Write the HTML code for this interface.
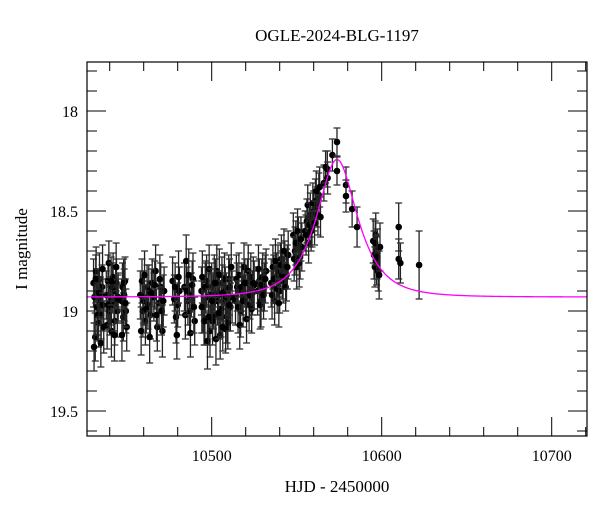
<!DOCTYPE html>
<html><head><meta charset="utf-8">
<style>
html,body{margin:0;padding:0;background:#fff;}
svg{display:block;font-family:"Liberation Serif",serif;}
</style></head>
<body>
<svg id="chart" width="600" height="512" viewBox="0 0 600 512"></svg>
<script>
// ---- data ----
const hjd = [
10430.5,10431,10431.5,10432,10432.5,10433,10433.5,10434,10434.5,10435,10435.5,10436,
10438,10438.5,10439,10439.5,10440,10440.5,10441,10441.5,
10442,10442.5,10443,10443.5,10444,10444.5,10445,
10447,10447.5,10448,10448.5,10449,10449.5,10450,
10458,10459,10459.5,10460,10461,10462,10462.5,10463,10464,10465,
10466,10467,10468,10469,10470,10471,10472,
10477,10478,10479,10480,10481,
10484,10485,10486,10487,10488,10489,10490,
10494,10495,10496,10497,10498,10499,10500,10501,10502,10503,10504,10505,10506,10507,10508,10509,10510,10511,10512,
10514,10515,10516,10517,10518,10519,10520,10521,10522,10523,10524,10525,
10527,10528,10529,10530,10531,10532,
10535,10536,10537,10538,10539,10540,10541,10542,10543,10544,10545,
10548,10549,10550,10551,10552,10553,
10555,10556,10557,10558,10559,10560,10561,10562,10563,10564,
10566,10567,10568,10568.2,
10571,10573.7,10573.7,10579,10579,10582.6,10585.5,
10595,10595.5,10596,10596.5,10597,10597.5,10598,10599,
10610,10610,10611,10622
];
const mag = [
18.86,18.93,19.13,18.80,18.98,18.90,19.06,18.84,18.95,19.02,18.88,18.97,
18.92,19.07,18.85,18.76,19.00,18.95,19.10,18.88,
18.83,18.97,19.05,18.90,18.86,19.00,18.93,
18.95,18.88,19.03,18.92,18.85,19.00,19.08,
18.92,18.85,19.00,18.95,19.05,18.88,18.97,18.90,19.02,18.86,
18.93,18.80,19.08,18.96,18.88,19.10,18.90,
18.85,18.94,19.03,18.97,18.90,
18.88,18.75,18.95,19.00,18.92,18.84,19.05,
18.90,18.97,19.05,18.85,18.93,19.10,18.88,18.95,19.02,18.80,18.92,19.12,18.86,18.96,18.90,19.03,18.84,18.98,18.93,
18.95,18.88,18.82,19.00,18.90,18.78,18.93,18.86,18.97,18.83,18.91,18.87,
18.90,18.85,18.95,18.83,18.88,18.80,
18.86,18.78,18.95,18.83,18.80,18.90,18.74,18.85,18.77,18.82,18.72,
18.62,18.70,18.78,18.65,18.73,18.68,
18.60,18.55,18.66,18.52,18.58,18.50,18.45,18.48,18.42,18.53,
18.36,18.28,18.29,18.335,
18.22,18.155,18.30,18.37,18.425,18.49,18.58,
18.65,18.72,18.78,18.62,18.75,18.70,18.80,18.68,
18.58,18.74,18.76,18.77
];
const err = [
0.12,0.13,0.12,0.12,0.14,0.11,0.12,0.13,0.12,0.12,0.11,0.13,
0.12,0.12,0.13,0.11,0.12,0.12,0.13,0.12,
0.12,0.13,0.12,0.11,0.12,0.13,0.12,
0.11,0.12,0.12,0.13,0.12,0.11,0.12,
0.12,0.11,0.13,0.12,0.12,0.11,0.12,0.13,0.12,0.12,
0.12,0.13,0.12,0.11,0.12,0.13,0.12,
0.12,0.12,0.13,0.11,0.12,
0.12,0.13,0.12,0.12,0.11,0.13,0.12,
0.12,0.14,0.12,0.13,0.12,0.13,0.12,0.14,0.12,0.13,0.12,0.12,0.13,0.14,0.12,0.13,0.12,0.12,0.13,
0.12,0.12,0.11,0.13,0.12,0.12,0.11,0.12,0.13,0.12,0.11,0.12,
0.12,0.11,0.13,0.12,0.12,0.11,
0.12,0.11,0.12,0.12,0.13,0.11,0.12,0.11,0.12,0.13,0.12,
0.11,0.12,0.11,0.12,0.11,0.12,
0.10,0.11,0.10,0.11,0.10,0.10,0.11,0.10,0.11,0.10,
0.09,0.08,0.09,0.08,
0.08,0.07,0.07,0.09,0.08,0.09,0.10,
0.11,0.12,0.10,0.11,0.12,0.11,0.10,0.12,
0.12,0.10,0.10,0.17
];
// additional baseline-season observations
const hjd2 = [
10430.8,10431.8,10432.8,10433.8,10434.8,10435.8,10436.5,10439.2,10440.8,10442.8,10443.8,10444.8,10447.2,10448.2,10449.2,
10458.5,10459.8,10460.5,10461.5,10463.5,10464.5,10466.5,10467.5,10469.5,10470.5,10471.5,10478.5,10479.5,10480.5,
10484.5,10485.5,10486.5,10487.5,10488.5,10489.5,
10494.5,10495.5,10496.5,10497.5,10498.5,10499.5,10500.5,10501.5,10502.5,10503.5,10504.5,10505.5,10506.5,10507.5,10508.5,10509.5,10510.5,10511.5,
10494.2,10496.2,10498.2,10500.2,10502.2,10504.2,10506.2,10508.2,10510.2,
10514.5,10515.5,10516.5,10517.5,10518.5,10519.5,10520.5,10521.5,10522.5,10523.5,10524.5,
10527.5,10528.5,10529.5,10530.5,10531.5,
10535.5,10536.5,10537.5,10538.5,10539.5,10540.5,10541.5,10542.5,10543.5,10544.5,
10548.5,10549.5,10550.5,10551.5,10552.5,
10555.5,10556.5,10557.5,10558.5,10559.5,10560.5,10561.5,10562.5,10563.5,
10596.2,10597.2,10598.5
];
const mag2 = [
19.18,18.84,19.02,18.91,19.16,18.79,19.08,18.97,18.85,19.12,18.78,18.94,19.12,18.86,18.96,
19.10,18.93,18.82,18.99,19.13,18.91,18.87,19.02,18.84,19.00,18.95,18.88,19.12,18.83,
19.02,18.90,18.82,19.11,18.87,18.98,
18.83,19.05,18.88,19.15,18.79,18.92,19.05,18.86,19.14,18.95,18.82,18.99,19.08,18.84,18.93,19.06,18.88,18.78,
18.98,18.88,19.03,18.95,18.86,19.01,18.91,19.09,18.97,
18.84,18.98,19.07,18.88,18.95,18.86,19.04,18.80,18.92,18.99,18.86,
18.79,18.97,18.87,18.92,18.84,
18.92,18.84,18.75,18.89,18.96,18.77,18.82,18.70,18.88,18.78,
18.74,18.66,18.60,18.76,18.64,
18.62,18.47,18.57,18.60,18.46,18.56,18.40,18.52,18.38,
18.66,18.73,18.82
];
const err2 = [
0.12,0.12,0.13,0.12,0.12,0.12,0.13,0.12,0.12,0.13,0.12,0.12,0.13,0.12,0.12,
0.12,0.13,0.12,0.12,0.13,0.12,0.12,0.13,0.12,0.12,0.13,0.12,0.12,0.13,
0.12,0.12,0.13,0.12,0.12,0.13,
0.13,0.12,0.13,0.14,0.12,0.13,0.12,0.14,0.13,0.12,0.13,0.14,0.12,0.13,0.12,0.13,0.14,0.12,
0.13,0.12,0.14,0.13,0.12,0.13,0.14,0.12,0.13,
0.12,0.13,0.12,0.12,0.13,0.12,0.12,0.13,0.12,0.12,0.13,
0.12,0.12,0.13,0.12,0.12,
0.12,0.12,0.11,0.12,0.12,0.11,0.12,0.11,0.12,0.11,
0.11,0.11,0.11,0.12,0.11,
0.10,0.10,0.11,0.10,0.10,0.11,0.10,0.10,0.10,
0.11,0.11,0.12
];
const xTicks = [10500,10600,10700];
const yTicks = [18,18.5,19,19.5];
const yTickLabels = ["18","18.5","19","19.5"];
const t0 = 10573.7, u0 = 0.6, tE = 19, baseMag = 18.93;

// ---- axes ----
const L=87,R=587,T=62,B=436;
const X = t => 211.7 + (t-10500)*1.7;
const Y = m => 111 + (m-18)*200;
const xMin=10426.6, xMax=10720.8, yMin=17.755, yMax=19.625;
const svg=document.getElementById('chart');
const NS='http://www.w3.org/2000/svg';
function mk(tag,attrs,parent){const e=document.createElementNS(NS,tag);for(const k in attrs)e.setAttribute(k,attrs[k]);(parent||svg).appendChild(e);return e;}

let e=mk('text',{x:337,y:41,'text-anchor':'middle','font-size':17});e.textContent='OGLE-2024-BLG-1197';


e=mk('text',{x:337,y:492,'text-anchor':'middle','font-size':17});e.textContent='HJD - 2450000';


e=mk('text',{x:27,y:249,'text-anchor':'middle','font-size':17,transform:'rotate(-90 27 249)'});e.textContent='I magnitude';



const tg=mk('g',{stroke:'#000','stroke-width':1});


for(let t=10440;t<=xMax;t+=20){
  const x=X(t), major=(t%100===0), len=major?19:9;
  mk('line',{x1:x,y1:B,x2:x,y2:B-len},tg);
  mk('line',{x1:x,y1:T,x2:x,y2:T+len},tg);
}
for(let k=18;k<=196;k++){
  const m=k/10; if(m<yMin||m>yMax) continue;
  const y=Y(m), major=(k%5===0), len=major?19:10;
  mk('line',{x1:L,y1:y,x2:L+len,y2:y},tg);
  mk('line',{x1:R,y1:y,x2:R-len,y2:y},tg);
}
xTicks.forEach(t=>{const el=mk('text',{x:X(t),y:461,'text-anchor':'middle','font-size':16});el.textContent=String(t);

});
yTicks.forEach((m,i)=>{const el=mk('text',{x:78,y:Y(m)+6,'text-anchor':'end','font-size':16});el.textContent=yTickLabels[i];

});

const clip=mk('clipPath',{id:'pc'});mk('rect',{x:L,y:T,width:R-L,height:B-T},clip);
const dg=mk('g',{'clip-path':'url(#pc)'});


function drawPts(ts,ms,es){
  for(let i=0;i<ts.length;i++){
    const x=X(ts[i]),y=Y(ms[i]),y1=Y(ms[i]-es[i]),y2=Y(ms[i]+es[i]);
    mk('line',{x1:x,y1:y1,x2:x,y2:y2,stroke:'#222','stroke-width':1.3},dg);
    mk('line',{x1:x-3.5,y1:y1,x2:x+3.5,y2:y1,stroke:'#333','stroke-width':1.3},dg);
    mk('line',{x1:x-3.5,y1:y2,x2:x+3.5,y2:y2,stroke:'#333','stroke-width':1.3},dg);
    const c=mk('circle',{cx:x,cy:y,r:3.3,fill:'#000'},dg);
    
    
  }
}
drawPts(hjd,mag,err);
drawPts(hjd2,mag2,err2);

let d='';
for(let px=L;px<=R;px+=0.5){
  const t=xMin+(px-L)/(R-L)*(xMax-xMin);
  const tau=(t-t0)/tE,u=Math.sqrt(u0*u0+tau*tau);
  const A=(u*u+2)/(u*Math.sqrt(u*u+4));
  const m=baseMag-2.5*Math.log10(A);
  d+=(d?'L':'M')+px.toFixed(1)+','+Y(m).toFixed(2);
}
const model=mk('path',{d:d,fill:'none',stroke:'#ff00ff','stroke-width':1.3,'clip-path':'url(#pc)'});



const frame=mk('rect',{x:L,y:T,width:R-L,height:B-T,fill:'none',stroke:'#000','stroke-width':1.2});


</script>
</body></html>
